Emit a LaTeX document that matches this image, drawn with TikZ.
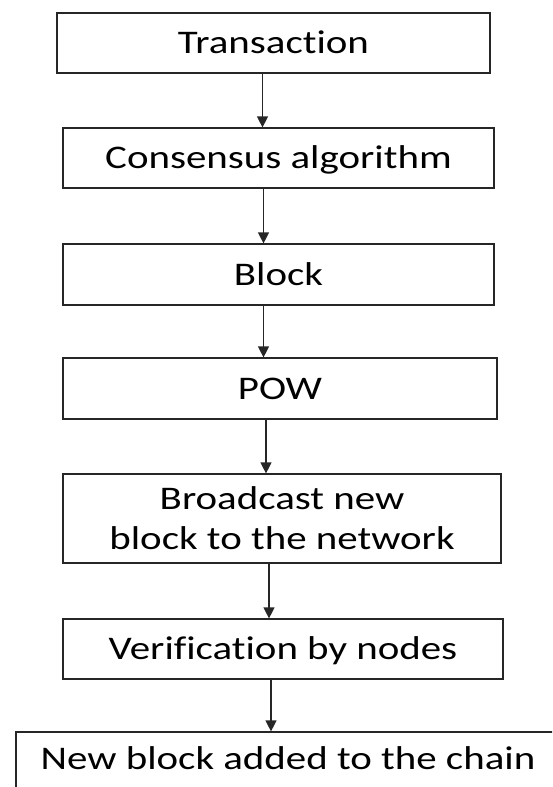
\documentclass[tikz,border=0pt]{standalone}
\usepackage{fontspec}
\setmainfont{Carlito}[FakeStretch=1.24,Ligatures=NoCommon]
\usetikzlibrary{arrows.meta}

\begin{document}
\begin{tikzpicture}[x=1pt,y=-1pt,
  box/.style={draw=black!85,line width=1.2pt,inner sep=0pt,minimum height=60pt,
    font=\fontsize{33}{40}\selectfont},
  stage/.style={box,text height=29pt,text depth=8pt},
  flow/.style={draw=black!85,line width=1.2pt,-{Triangle[length=11pt,width=11pt]}}]
\clip (0,0) rectangle (552,787);
\node[stage,minimum width=433pt] (tx) at (273.5,43) {Transaction};
\node[stage,minimum width=431pt] (cons) at (278.5,158) {Consensus algorithm};
\node[stage,minimum width=431pt,minimum height=61pt] (blk) at (278.5,274.5) {Block};
\node[stage,minimum width=434pt,minimum height=61pt] (pow) at (280,388.5) {POW};
\node[box,minimum width=438pt,minimum height=89pt,align=center] (bcast) at (282,518.5)
  {Broadcast new\\block to the network};
\node[stage,minimum width=440pt] (verif) at (283,649) {Verification by nodes};
% last box runs off the page
\node[stage,minimum width=544pt,text depth=14pt] (chain) at (288,762) {New block added to the chain};

\draw[flow] ([xshift=-11pt]tx.south) -- ([xshift=-11pt]tx.south |- cons.north);
\draw[flow] ([xshift=-15pt]cons.south) -- ([xshift=-15pt]cons.south |- blk.north);
\draw[flow] ([xshift=-15pt]blk.south) -- ([xshift=-15pt]blk.south |- pow.north);
\draw[flow] ([xshift=-14pt]pow.south) -- ([xshift=-14pt]pow.south |- bcast.north);
\draw[flow] ([xshift=-13pt]bcast.south) -- ([xshift=-13pt]bcast.south |- verif.north);
\draw[flow] ([xshift=-12pt]verif.south) -- ([xshift=-12pt]verif.south |- chain.north);
\end{tikzpicture}
\end{document}
